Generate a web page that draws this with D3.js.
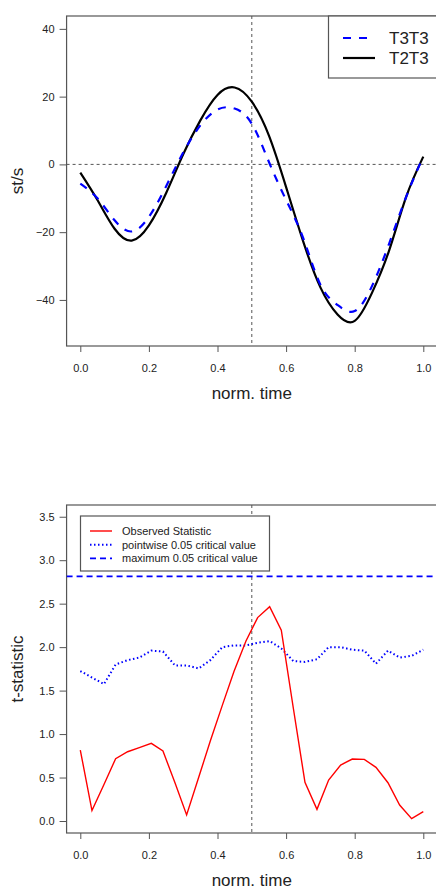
<!DOCTYPE html>
<html>
<head>
<meta charset="utf-8">
<script src="https://cdn.jsdelivr.net/npm/d3@7"></script>
<style>
  body { margin: 0; background: #fff; }
  text { font-family: "Liberation Sans", Arial, sans-serif; fill: #222; }
</style>
</head>
<body>
<div id="chart"></div>
<script>
// top panel: st/s curves
let timeTop = [0, 0.05, 0.1, 0.15, 0.2, 0.25, 0.3, 0.35, 0.4, 0.45, 0.5,
               0.55, 0.6, 0.65, 0.7, 0.75, 0.8, 0.85, 0.9, 0.95, 1.0];
let t3t3 = [-5.7, -10, -16.5, -19.8, -15.5, -6.5, 3.5, 11.5, 16.2, 16.5, 12,
            0.7, -10.5, -21.8, -35.5, -41.5, -43.3, -36, -23.5, -9.6, 2.3];
let t2t3 = [-2.4, -10.5, -19, -22.5, -18, -8.5, 3, 13, 20.5, 22.7, 18.5,
            8.5, -6.7, -22.8, -36.3, -44.3, -46.2, -38, -25.5, -9.6, 2.3];
let topTicksY = [-40, -20, 0, 20, 40];

// bottom panel: t-statistic
let timeBot = [0, 0.034, 0.069, 0.103, 0.138, 0.172, 0.207, 0.241, 0.276, 0.31,
               0.345, 0.379, 0.414, 0.448, 0.483, 0.517, 0.552, 0.586, 0.621, 0.655,
               0.69, 0.724, 0.759, 0.793, 0.828, 0.862, 0.897, 0.931, 0.966, 1.0];
let observed = [0.816, 0.12, 0.42, 0.717, 0.797, 0.845, 0.893, 0.805, 0.44, 0.07,
                0.5, 0.92, 1.33, 1.72, 2.07, 2.34, 2.465, 2.196, 1.3, 0.445,
                0.134, 0.471, 0.644, 0.713, 0.709, 0.617, 0.44, 0.184, 0.027, 0.107];
let pointwise = [1.725, 1.65, 1.575, 1.8, 1.85, 1.88, 1.96, 1.95, 1.79, 1.79,
                 1.755, 1.85, 2.0, 2.02, 2.02, 2.05, 2.07, 1.985, 1.84, 1.83,
                 1.86, 2.0, 2.0, 1.97, 1.96, 1.81, 1.96, 1.88, 1.9, 1.97];
let maxCritical = 2.814;
let botTicksY = [0, 0.5, 1, 1.5, 2, 2.5, 3, 3.5];
let ticksX = [0, 0.2, 0.4, 0.6, 0.8, 1.0];
let markTime = 0.5;

let W = 436, H = 889;
let svg = d3.select("#chart").append("svg").attr("width", W).attr("height", H);

let x = d3.scaleLinear().domain([0, 1]).range([80.3, 423.3]);
let boxL = x(-0.04), boxR = x(1.04);
let fmt = d3.format(".1f");

function panel(y, yTicks, yFmt, yLabel, top, bottom, id) {
    let g = svg.append("g");
    svg.append("clipPath").attr("id", id)
        .append("rect").attr("x", boxL).attr("y", top).attr("width", boxR - boxL).attr("height", bottom - top);

    // axes
    let ax = g.append("g").attr("transform", "translate(" + boxL + ",0)")
        .call(d3.axisLeft(y).tickValues(yTicks).tickSize(7).tickPadding(5).tickFormat(yFmt));
    let bx = g.append("g").attr("transform", "translate(0," + bottom + ")")
        .call(d3.axisBottom(x).tickValues(ticksX).tickSize(6).tickPadding(12).tickFormat(fmt));
    [ax, bx].forEach(a => {
        a.select(".domain").remove();
        a.selectAll(".tick line").attr("stroke", "#555");
        a.selectAll(".tick text").style("font-size", "11px").attr("fill", "#222")
            .style("font-family", "Liberation Sans, Arial, sans-serif");
    });

    g.append("rect").attr("x", boxL).attr("y", top).attr("width", boxR - boxL).attr("height", bottom - top)
        .attr("fill", "none").attr("stroke", "#555").attr("stroke-width", 1.2);

    g.append("text").attr("x", x(0.5)).attr("y", bottom + 53).attr("text-anchor", "middle")
        .style("font-size", "17px").text("norm. time");
    g.append("text").attr("transform", "translate(23," + ((top + bottom) / 2) + ") rotate(-90)")
        .attr("text-anchor", "middle").style("font-size", "17px").text(yLabel);

    // vertical marker
    g.append("line").attr("x1", x(markTime)).attr("x2", x(markTime)).attr("y1", top).attr("y2", bottom)
        .attr("stroke", "#555").attr("stroke-dasharray", "3,3");

    return g.append("g").attr("clip-path", "url(#" + id + ")");
}

// ---- top panel
let yTop = d3.scaleLinear().domain([-53.6, 43.8]).range([346, 16]);
let pTop = panel(yTop, topTicksY, d3.format("d"), "st/s", 16, 346, "clipTop");

pTop.append("line").attr("x1", boxL).attr("x2", boxR).attr("y1", yTop(0)).attr("y2", yTop(0))
    .attr("stroke", "#555").attr("stroke-dasharray", "3,3");

let lineTop = d3.line().x(d => x(d[0])).y(d => yTop(d[1])).curve(d3.curveNatural);
pTop.append("path").datum(d3.zip(timeTop, t2t3)).attr("d", lineTop)
    .attr("fill", "none").attr("stroke", "#000").attr("stroke-width", 2.2);
pTop.append("path").datum(d3.zip(timeTop, t3t3)).attr("d", lineTop)
    .attr("fill", "none").attr("stroke", "#0000ff").attr("stroke-width", 2.2).attr("stroke-dasharray", "8,8");

// top legend
let lgTop = svg.append("g");
lgTop.append("rect").attr("x", 328.5).attr("y", 16).attr("width", 120).attr("height", 62)
    .attr("fill", "#fff").attr("stroke", "#555").attr("stroke-width", 1.2);
[["T3T3", "#0000ff", "8,8"], ["T2T3", "#000", null]].forEach((d, i) => {
    let yy = 38 + i * 20;
    lgTop.append("line").attr("x1", 343).attr("x2", 375).attr("y1", yy).attr("y2", yy)
        .attr("stroke", d[1]).attr("stroke-width", 2.2).attr("stroke-dasharray", d[2]);
    lgTop.append("text").attr("x", 389).attr("y", yy + 6).style("font-size", "17px").text(d[0]);
});

// ---- bottom panel
let yBot = d3.scaleLinear().domain([-0.138, 3.635]).range([833, 505]);
let pBot = panel(yBot, botTicksY, fmt, "t-statistic", 505, 833, "clipBot");

pBot.append("line").attr("x1", boxL).attr("x2", boxR).attr("y1", yBot(maxCritical)).attr("y2", yBot(maxCritical))
    .attr("stroke", "#0000ff").attr("stroke-width", 1.6).attr("stroke-dasharray", "6,4");

let lineBot = d3.line().x(d => x(d[0])).y(d => yBot(d[1]));
pBot.append("path").datum(d3.zip(timeBot, pointwise)).attr("d", lineBot)
    .attr("fill", "none").attr("stroke", "#0000ff").attr("stroke-width", 2).attr("stroke-dasharray", "1.5,2.5");
pBot.append("path").datum(d3.zip(timeBot, observed)).attr("d", lineBot)
    .attr("fill", "none").attr("stroke", "#ff0000").attr("stroke-width", 1.4);

// bottom legend
let lgBot = svg.append("g");
lgBot.append("rect").attr("x", 80.5).attr("y", 516).attr("width", 189).attr("height", 55)
    .attr("fill", "#fff").attr("stroke", "#555").attr("stroke-width", 1.2);
[["Observed Statistic", "#ff0000", null, 1.4],
 ["pointwise 0.05 critical value", "#0000ff", "1.5,2.5", 2],
 ["maximum 0.05 critical value", "#0000ff", "6,4", 1.6]].forEach((d, i) => {
    let yy = 531 + i * 13.7;
    lgBot.append("line").attr("x1", 90).attr("x2", 112).attr("y1", yy).attr("y2", yy)
        .attr("stroke", d[1]).attr("stroke-width", d[3]).attr("stroke-dasharray", d[2]);
    lgBot.append("text").attr("x", 122).attr("y", yy + 4).style("font-size", "11px").text(d[0]);
});
</script>
</body>
</html>
